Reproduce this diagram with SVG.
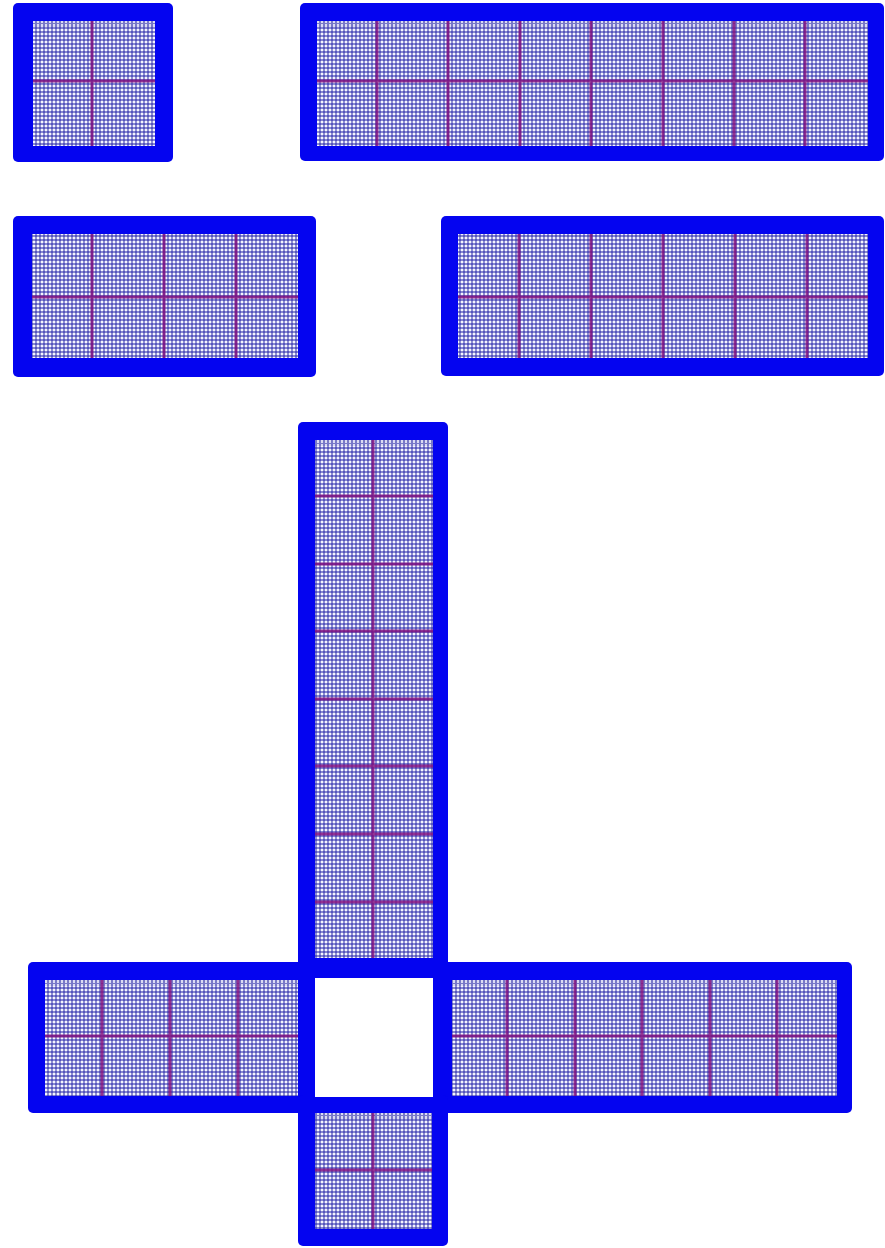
<svg xmlns="http://www.w3.org/2000/svg" width="885" height="1248" viewBox="0 0 885 1248">
<defs>
<pattern id="dots" patternUnits="userSpaceOnUse" width="4" height="4">
<rect width="4" height="4" fill="#7878c8"/>
<circle cx="2" cy="2" r="1.35" fill="#f4f4ff"/>
<circle cx="0" cy="0" r="0.75" fill="#2020b0"/>
<circle cx="4" cy="0" r="0.75" fill="#2020b0"/>
<circle cx="0" cy="4" r="0.75" fill="#2020b0"/>
<circle cx="4" cy="4" r="0.75" fill="#2020b0"/>
</pattern>
<pattern id="ticks" patternUnits="userSpaceOnUse" width="4" height="6">
<rect width="4" height="6" fill="#7878c8"/>
<rect x="1.2" y="0" width="1.6" height="5" fill="#f4f4ff"/>
</pattern>
</defs>
<style>
.frame{fill:#0404f0}
.cells{fill:url(#dots)}
.tick{fill:url(#ticks)}
.hole{fill:#ffffff}
.div{stroke:#801080;stroke-width:3;stroke-opacity:0.85;fill:none}
</style>

<g id="block1">
<rect class="frame" x="13" y="3" width="160" height="159" rx="5"/>
<rect class="cells" x="33" y="21" width="122" height="125"/>
<rect class="tick" x="33" y="21" width="122" height="6"/>
<path class="div" d="M92 21V146M33 81H155"/>
</g>

<g id="block2">
<rect class="frame" x="300" y="3" width="584" height="158" rx="5"/>
<rect class="cells" x="317" y="21" width="551" height="125"/>
<rect class="tick" x="317" y="21" width="551" height="6"/>
<path class="div" d="M377 21V146M448 21V146M520 21V146M591 21V146M663 21V146M734 21V146M805 21V146M317 81H868"/>
</g>

<g id="block3">
<rect class="frame" x="13" y="216" width="303" height="161" rx="5"/>
<rect class="cells" x="32" y="234" width="266" height="124"/>
<path class="div" d="M92 234V358M164 234V358M236 234V358M32 297H298"/>
</g>

<g id="block4">
<rect class="frame" x="441" y="216" width="443" height="160" rx="5"/>
<rect class="cells" x="458" y="234" width="410" height="124"/>
<path class="div" d="M519 234V358M591 234V358M663 234V358M735 234V358M807 234V358M458 297H868"/>
</g>

<g id="cross">
<rect class="frame" x="298" y="422" width="150" height="691" rx="5"/>
<rect class="frame" x="28" y="962" width="824" height="151" rx="5"/>
<rect class="frame" x="298" y="1095" width="150" height="151" rx="5"/>
<rect class="hole" x="315" y="978" width="118" height="119"/>
</g>

<g id="column">
<rect class="cells" x="315" y="440" width="118" height="518"/>
<rect class="tick" x="315" y="440" width="118" height="6"/>
<path class="div" d="M373 440V958M315 496H433M315 564H433M315 631H433M315 699H433M315 766H433M315 834H433M315 902H433"/>
</g>

<g id="left-arm">
<rect class="cells" x="45" y="980" width="253" height="116"/>
<rect class="tick" x="45" y="980" width="253" height="6"/>
<path class="div" d="M102 980V1096M170 980V1096M238 980V1096M45 1036H298"/>
</g>

<g id="right-arm">
<rect class="cells" x="452" y="980" width="385" height="116"/>
<rect class="tick" x="452" y="980" width="385" height="6"/>
<path class="div" d="M507 980V1096M575 980V1096M642 980V1096M710 980V1096M777 980V1096M452 1036H837"/>
</g>

<g id="bottom">
<rect class="cells" x="315" y="1113" width="117" height="116"/>
<rect class="tick" x="315" y="1113" width="117" height="6"/>
<path class="div" d="M373 1113V1229M315 1170H432"/>
</g>

<g id="connectors"/>
</svg>
